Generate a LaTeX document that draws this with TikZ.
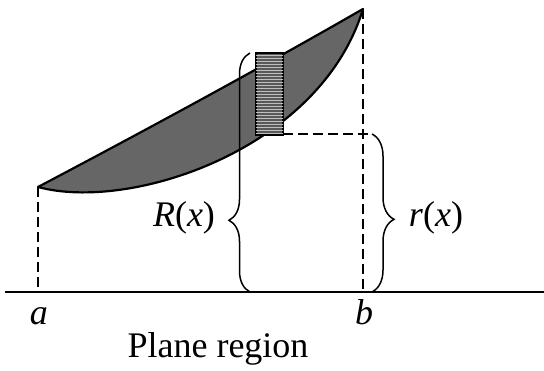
\documentclass[tikz,border=0pt]{standalone}
\usepackage{fontspec}
\setmainfont{Liberation Serif}
\usepackage{tikz}
\usetikzlibrary{decorations.pathreplacing, patterns, positioning}
\tikzstyle{region} = [fill=black!60, draw=black, line width=2.2pt, line join=round]
\tikzstyle{strip} = [fill=black!65, draw=black, line width=1.6pt, postaction={pattern=horizontal lines, pattern color=black!25}]
\tikzstyle{dashline} = [dash pattern=on 10pt off 5pt, line width=1.3pt]
\tikzstyle{axis} = [line width=1.6pt]
\tikzstyle{bracket} = [decorate, line width=1.5pt]
\tikzstyle{lab} = [inner sep=0pt]

\begin{document}
\begin{tikzpicture}[x=1pt, y=-1pt, font=\fontsize{36}{40}\selectfont]
        \useasboundingbox (0,0) rectangle (544,371);
        \coordinate (A) at (38,187);
        \coordinate (B) at (363,9);
        \coordinate (aA) at (38,292);
        \coordinate (bB) at (363,292);
        \coordinate (left) at (5,292);
        \coordinate (right) at (544,292);
        \coordinate (s1) at (256,53);
        \coordinate (s2) at (283,135);
        \coordinate (Rbot) at (250,292);
        \coordinate (Rtop) at (250,53);
        \coordinate (rtop) at (372,134);
        \coordinate (rbot) at (372,292);

        \draw [region] (A) .. controls (146,130) and (255,71) .. (B) .. controls (320,150) and (130,212) .. (A) -- cycle;
        \draw [strip] (s1) rectangle (s2);

        \draw [dashline] (A) -- (aA);
        \draw [dashline] (B) -- (bB);
        \draw [dashline] (s2 |- rtop) -- (rtop);
        \draw [axis] (left) -- (right);

        \draw [bracket, decoration={brace, amplitude=21pt, aspect=0.3}] (Rbot) -- (Rtop);
        \draw [bracket, decoration={brace, amplitude=22pt, aspect=0.54}] (rtop) -- (rbot);

        \node (Rlab) [lab] at (184,218) {\textit{R}(\textit{x})};
        \node (rlab) [lab] at (436,218) {\textit{r}(\textit{x})};
        \node (alab) [lab, anchor=base] at (39,325) {\textit{a}};
        \node (blab) [lab, anchor=base] at (364,325) {\textit{b}};
        \node (title) [lab, anchor=base] at (218,358) {Plane region};
    \end{tikzpicture}
\end{document}
